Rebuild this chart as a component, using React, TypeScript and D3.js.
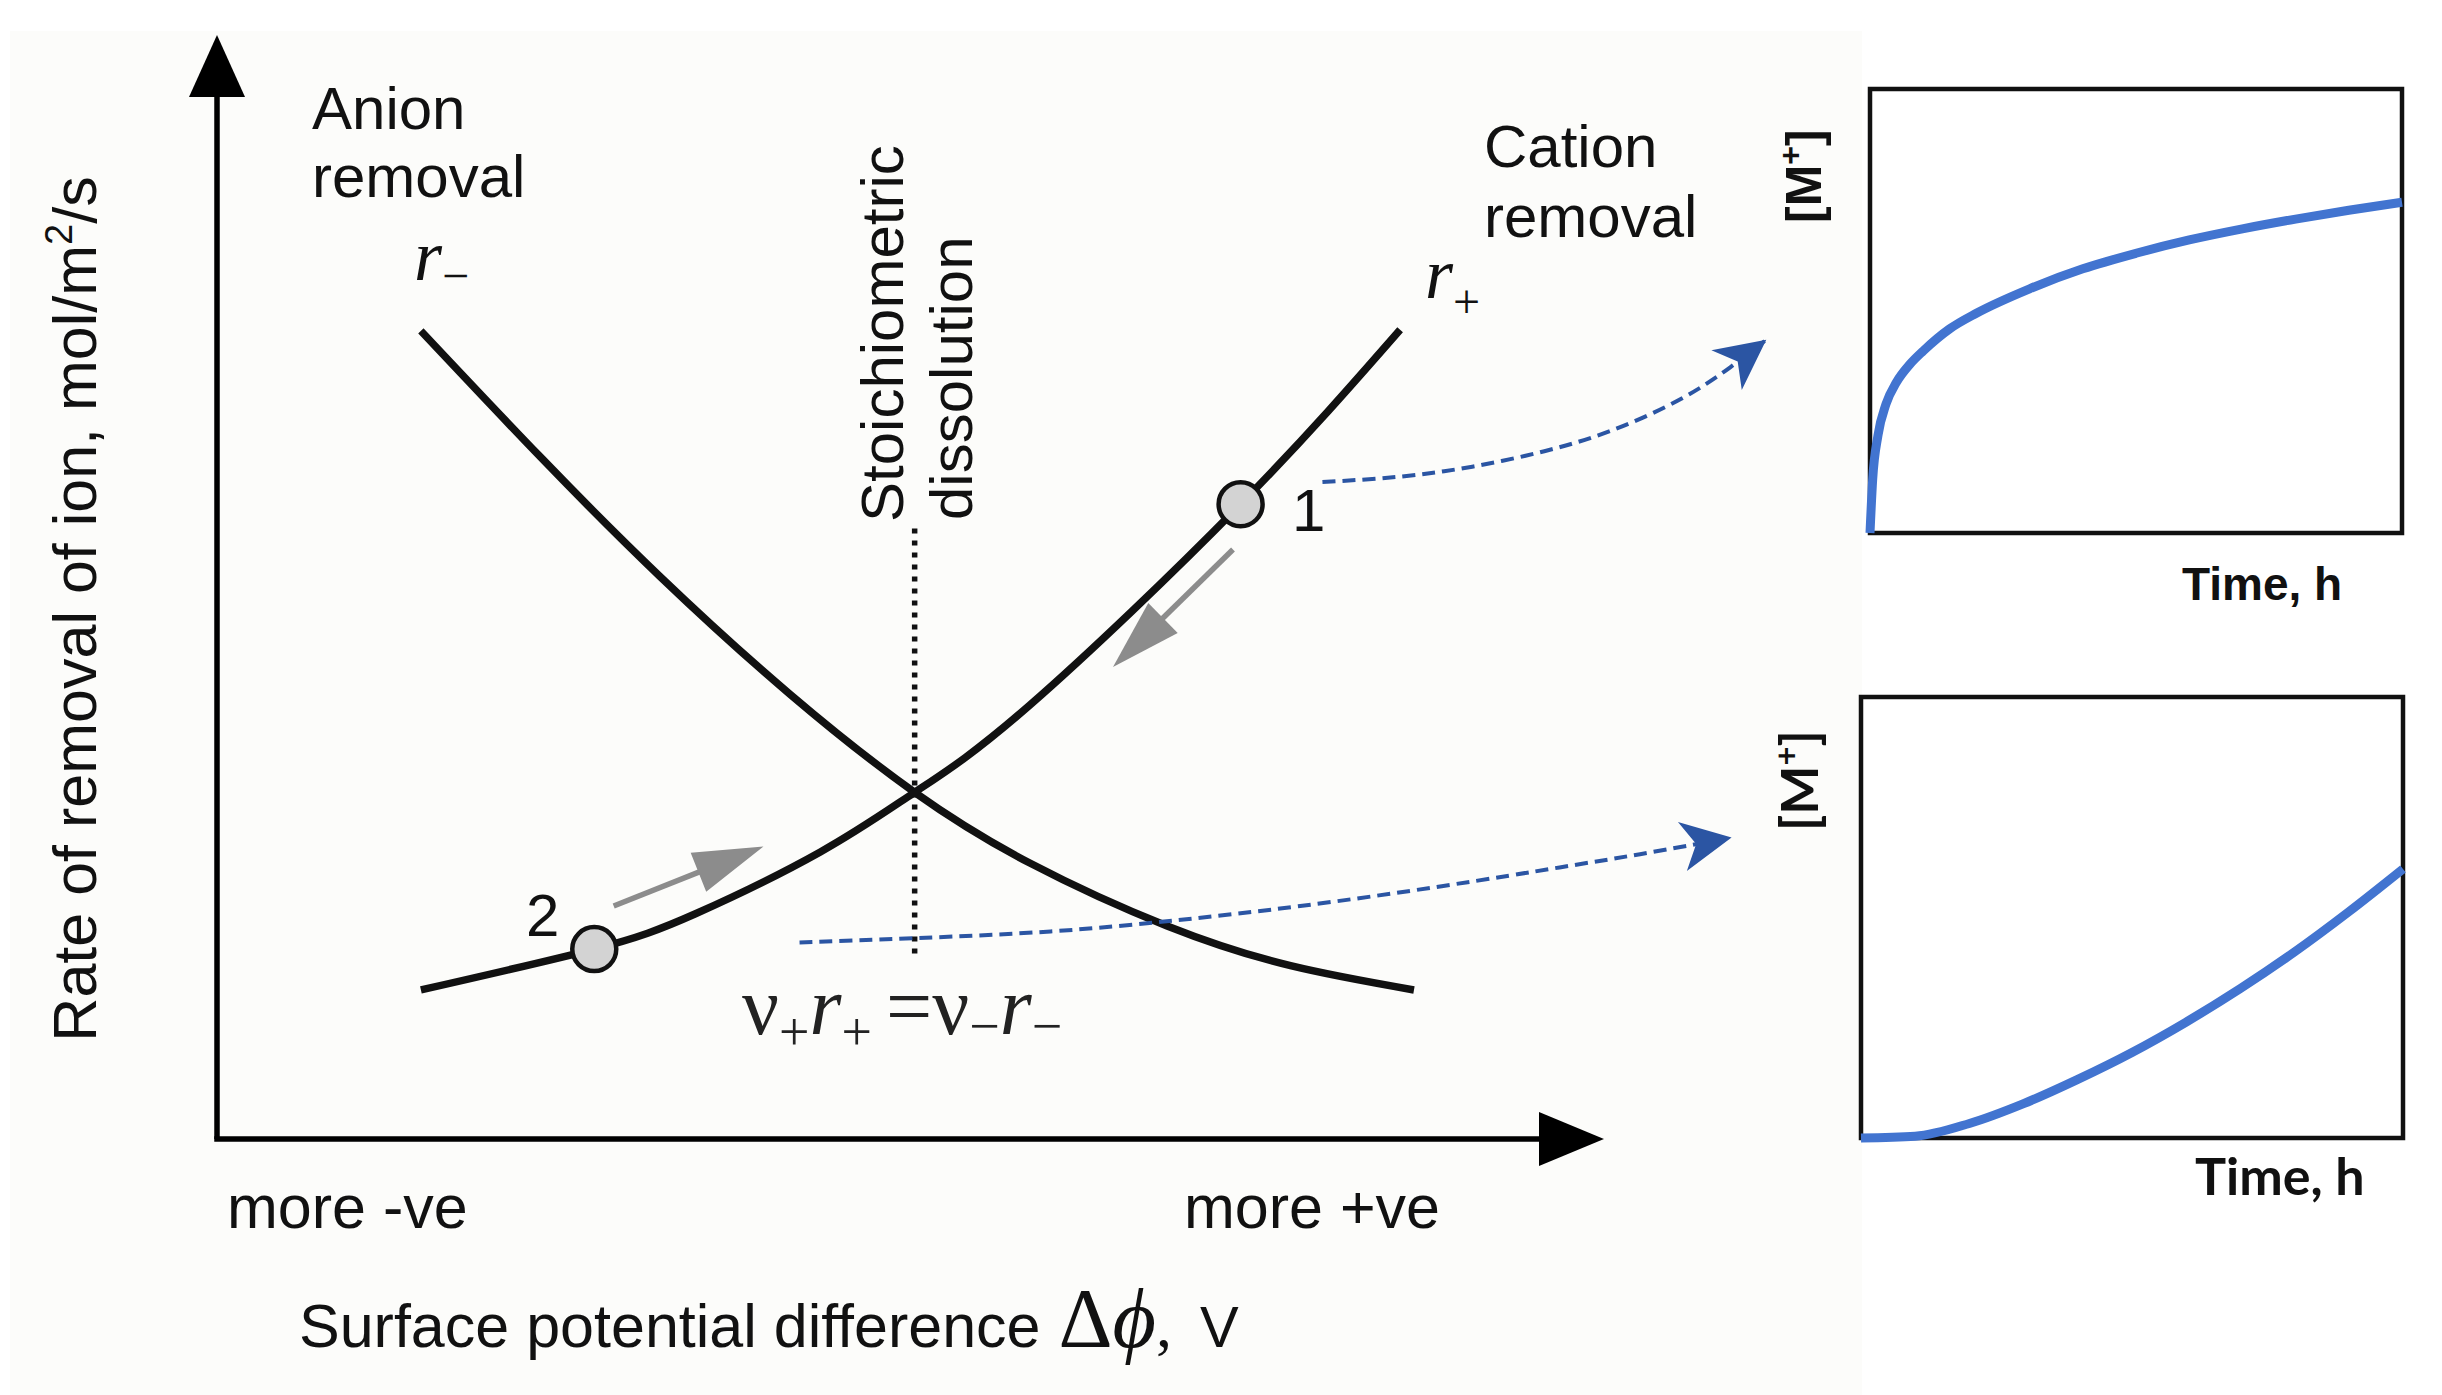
import React from 'react';
import * as d3 from 'd3';

const W = 2442;
const H = 1395;

// ---- main diagram (normalised potential 0..1, normalised rate 0..1) ----
const rMinusX = [0.147, 0.233, 0.319, 0.413, 0.503, 0.586, 0.685, 0.774, 0.863];
const rMinusY = [0.732, 0.618, 0.510, 0.403, 0.314, 0.250, 0.193, 0.157, 0.135];
const rPlusX = [0.147, 0.272, 0.345, 0.435, 0.503, 0.586, 0.738, 0.853];
const rPlusY = [0.135, 0.172, 0.204, 0.260, 0.314, 0.393, 0.575, 0.733];

const stateLabels = ['1', '2'];
const stateX = [0.738, 0.272];
const stateY = [0.575, 0.172];

const stoichX = 0.503;
const stoichYRange = [0.168, 0.553];

// gray arrows: [x1, y1, x2, y2]
const grayArrows = [
  [0.7325, 0.534, 0.646, 0.4275],
  [0.286, 0.211, 0.394, 0.265],
];

// blue dashed links to the right-hand panels
const link1X = [0.797, 0.853, 0.905, 0.957, 1.006, 1.055, 1.091, 1.117];
const link1Y = [0.595, 0.600, 0.609, 0.623, 0.642, 0.670, 0.699, 0.724];
const link2X = [0.420, 0.504, 0.601, 0.691, 0.781, 0.883, 0.968, 1.026, 1.092];
const link2Y = [0.178, 0.182, 0.188, 0.198, 0.211, 0.229, 0.246, 0.258, 0.273];

// ---- right panels: [M+] vs time ----
const topT = [0, 0.005, 0.015, 0.03, 0.05, 0.075, 0.1, 0.15, 0.2, 0.3, 0.4, 0.5, 0.6, 0.7, 0.8, 0.9, 1.0];
const topV = [0, 0.12, 0.22, 0.29, 0.34, 0.38, 0.41, 0.46, 0.495, 0.55, 0.595, 0.63, 0.66, 0.685, 0.707, 0.727, 0.745];
const botT = [0, 0.1, 0.2, 0.3, 0.4, 0.5, 0.6, 0.7, 0.8, 0.9, 1.0];
const botV = [0, 0.004, 0.033, 0.078, 0.133, 0.194, 0.263, 0.339, 0.422, 0.513, 0.61];

const SANS = '"Liberation Sans", Arial, Helvetica, sans-serif';
const SERIF = '"Liberation Serif", "Times New Roman", serif';
const BLUE_DASH = '#2b55a3';
const BLUE_CURVE = '#4274d0';
const GRAY = '#8c8c8c';

const zip = (a: number[], b: number[]) => a.map((v, i) => [v, b[i]] as [number, number]);

function headPoly(x1: number, y1: number, x2: number, y2: number, len: number, half: number, notch: number) {
  const dx = x2 - x1;
  const dy = y2 - y1;
  const L = Math.hypot(dx, dy);
  const ux = dx / L;
  const uy = dy / L;
  const bx = x2 - ux * len;
  const by = y2 - uy * len;
  const nx = x2 - ux * notch;
  const ny = y2 - uy * notch;
  return `${x2},${y2} ${bx - uy * half},${by + ux * half} ${nx},${ny} ${bx + uy * half},${by - ux * half}`;
}

export default function App() {
  const x = d3.scaleLinear().domain([0, 1]).range([217, 1604]);
  const y = d3.scaleLinear().domain([0, 1]).range([1139, 35]);
  const smooth = d3
    .line<[number, number]>()
    .x((d) => x(d[0]))
    .y((d) => y(d[1]))
    .curve(d3.curveNatural);

  const tx = d3.scaleLinear().domain([0, 1]).range([1870, 2402]);
  const ty = d3.scaleLinear().domain([0, 1]).range([533, 89]);
  const bx = d3.scaleLinear().domain([0, 1]).range([1861, 2403]);
  const by = d3.scaleLinear().domain([0, 1]).range([1138, 697]);
  const topLine = d3
    .line<[number, number]>()
    .x((d) => tx(d[0]))
    .y((d) => ty(d[1]))
    .curve(d3.curveMonotoneX);
  const botLine = d3
    .line<[number, number]>()
    .x((d) => bx(d[0]))
    .y((d) => by(d[1]))
    .curve(d3.curveMonotoneX);

  const x0 = x(0);
  const y0 = y(0);
  const xEnd = x(1);
  const yEnd = y(1);

  const links = [zip(link1X, link1Y), zip(link2X, link2Y)];

  return (
    <svg
      width={W}
      height={H}
      viewBox={`0 0 ${W} ${H}`}
      style={{ position: 'absolute', left: 0, top: 0, display: 'block' }}
    >
      <rect x={0} y={0} width={W} height={H} fill="#ffffff" />
      <rect x={10} y={31} width={1852} height={H - 31} fill="#fcfcfa" />
      <rect x={1862} y={60} width={560} height={1170} fill="#ffffff" />

      {/* axes */}
      <line x1={x0} y1={y0} x2={x0} y2={yEnd + 58} stroke="#000" strokeWidth={5.5} />
      <polygon points={`${x0},${yEnd} ${x0 - 28},${yEnd + 62} ${x0 + 28},${yEnd + 62}`} fill="#000" />
      <line x1={x0 - 2.75} y1={y0} x2={xEnd - 60} y2={y0} stroke="#000" strokeWidth={5.5} />
      <polygon points={`${xEnd},${y0} ${xEnd - 65},${y0 - 27} ${xEnd - 65},${y0 + 27}`} fill="#000" />

      {/* y-axis label */}
      <text
        transform="translate(96,609) rotate(-90)"
        textAnchor="middle"
        fontFamily={SANS}
        fontSize={61}
        fill="#111"
      >
        Rate of removal of ion, mol/m
        <tspan dy={-24} fontSize={38}>2</tspan>
        <tspan dy={24}>/s</tspan>
      </text>

      {/* x-axis texts */}
      <text x={227} y={1228} fontFamily={SANS} fontSize={61} fill="#111">more -ve</text>
      <text x={1184} y={1228} fontFamily={SANS} fontSize={61} fill="#111">more +ve</text>
      <text x={299} y={1347} fontFamily={SANS} fontSize={61} fill="#111">
        Surface potential difference
        <tspan fontFamily={SERIF} fontSize={84} dx={18}>Δ</tspan>
        <tspan fontFamily={SERIF} fontSize={84} fontStyle="italic">ϕ</tspan>
        <tspan fontFamily={SERIF} fontSize={64}>,</tspan>
        <tspan fontSize={58} dx={28}>V</tspan>
      </text>

      {/* region labels */}
      <text fontFamily={SANS} fontSize={60} fill="#111">
        <tspan x={312} y={129}>Anion</tspan>
        <tspan x={312} y={197}>removal</tspan>
      </text>
      <text fontFamily={SANS} fontSize={60} fill="#111">
        <tspan x={1484} y={167}>Cation</tspan>
        <tspan x={1484} y={237}>removal</tspan>
      </text>

      {/* curve labels */}
      <text x={414} y={280} fontFamily={SERIF} fontSize={72} fontStyle="italic" fill="#111">
        r<tspan fontStyle="normal" fontSize={48} dy={12}>−</tspan>
      </text>
      <text x={1425} y={298} fontFamily={SERIF} fontSize={72} fontStyle="italic" fill="#111">
        r<tspan fontStyle="normal" fontSize={48} dy={20}>+</tspan>
      </text>

      {/* stoichiometric line and label */}
      <line
        x1={x(stoichX)}
        x2={x(stoichX)}
        y1={y(stoichYRange[1])}
        y2={y(stoichYRange[0])}
        stroke="#111"
        strokeWidth={5.5}
        strokeDasharray="5 7"
      />
      <text transform="translate(903,522) rotate(-90)" fontFamily={SANS} fontSize={60} fill="#111">
        Stoichiometric
      </text>
      <text transform="translate(972,520) rotate(-90)" fontFamily={SANS} fontSize={60} fill="#111">
        dissolution
      </text>

      {/* rate curves */}
      <path d={smooth(zip(rMinusX, rMinusY)) || ''} fill="none" stroke="#111" strokeWidth={7.5} />
      <path d={smooth(zip(rPlusX, rPlusY)) || ''} fill="none" stroke="#111" strokeWidth={7.5} />

      {/* blue dashed links */}
      {links.map((pts, i) => {
        const n = pts.length;
        const p1 = [x(pts[n - 2][0]), y(pts[n - 2][1])];
        const p2 = [x(pts[n - 1][0]), y(pts[n - 1][1])];
        return (
          <g key={`link${i}`}>
            <path
              d={smooth(pts) || ''}
              fill="none"
              stroke={BLUE_DASH}
              strokeWidth={4}
              strokeDasharray="13 7"
            />
            <polygon points={headPoly(p1[0], p1[1], p2[0], p2[1], 50, 25, 36)} fill={BLUE_DASH} />
          </g>
        );
      })}

      {/* gray arrows */}
      {grayArrows.map((a, i) => {
        const x1 = x(a[0]);
        const y1 = y(a[1]);
        const x2 = x(a[2]);
        const y2 = y(a[3]);
        const L = Math.hypot(x2 - x1, y2 - y1);
        const ex = x2 - ((x2 - x1) / L) * 50;
        const ey = y2 - ((y2 - y1) / L) * 50;
        return (
          <g key={`ga${i}`}>
            <line x1={x1} y1={y1} x2={ex} y2={ey} stroke={GRAY} strokeWidth={5.5} />
            <polygon points={headPoly(x1, y1, x2, y2, 70, 21, 70)} fill={GRAY} />
          </g>
        );
      })}

      {/* state points */}
      {stateX.map((sx, i) => (
        <circle key={`st${i}`} cx={x(sx)} cy={y(stateY[i])} r={22} fill="#d3d3d3" stroke="#111" strokeWidth={4.5} />
      ))}
      <text x={1292} y={531} fontFamily={SANS} fontSize={60} fill="#111">{stateLabels[0]}</text>
      <text x={526} y={936} fontFamily={SANS} fontSize={60} fill="#111">{stateLabels[1]}</text>

      {/* equation */}
      <text x={742} y={1034} fontFamily={SERIF} fontSize={82} fill="#222">
        ν<tspan fontSize={54} dy={16}>+</tspan>
        <tspan dy={-16} fontStyle="italic">r</tspan>
        <tspan fontSize={54} dy={16}>+</tspan>
        <tspan dy={-16} dx={14}>=ν</tspan>
        <tspan fontSize={54} dy={10}>−</tspan>
        <tspan dy={-10} fontStyle="italic">r</tspan>
        <tspan fontSize={54} dy={10}>−</tspan>
      </text>

      {/* top right panel */}
      <rect x={tx(0)} y={ty(1)} width={tx(1) - tx(0)} height={ty(0) - ty(1)} fill="#fff" stroke="#111" strokeWidth={4.5} />
      <path d={topLine(zip(topT, topV)) || ''} fill="none" stroke={BLUE_CURVE} strokeWidth={9} />
      <text transform="translate(1821,223) rotate(-90)" fontFamily={SANS} fontWeight="bold" fontSize={50} fill="#111">
        [M<tspan fontSize={32} dy={-20}>+</tspan>
        <tspan dy={20}>]</tspan>
      </text>
      <text x={2182} y={600} fontFamily={SANS} fontWeight="bold" fontSize={46} fill="#111">Time, h</text>

      {/* bottom right panel */}
      <rect x={bx(0)} y={by(1)} width={bx(1) - bx(0)} height={by(0) - by(1)} fill="#fff" stroke="#111" strokeWidth={4.5} />
      <path d={botLine(zip(botT, botV)) || ''} fill="none" stroke={BLUE_CURVE} strokeWidth={9} />
      <text transform="translate(1818,831) rotate(-90)" fontFamily="Lato, sans-serif" fontWeight="bold" fontSize={52} fill="#111">
        [M<tspan fontSize={33} dy={-20}>+</tspan>
        <tspan dy={20}>]</tspan>
      </text>
      <text x={2195} y={1195} fontFamily="Lato, sans-serif" fontWeight="bold" fontSize={52} fill="#111">Time, h</text>
    </svg>
  );
}
